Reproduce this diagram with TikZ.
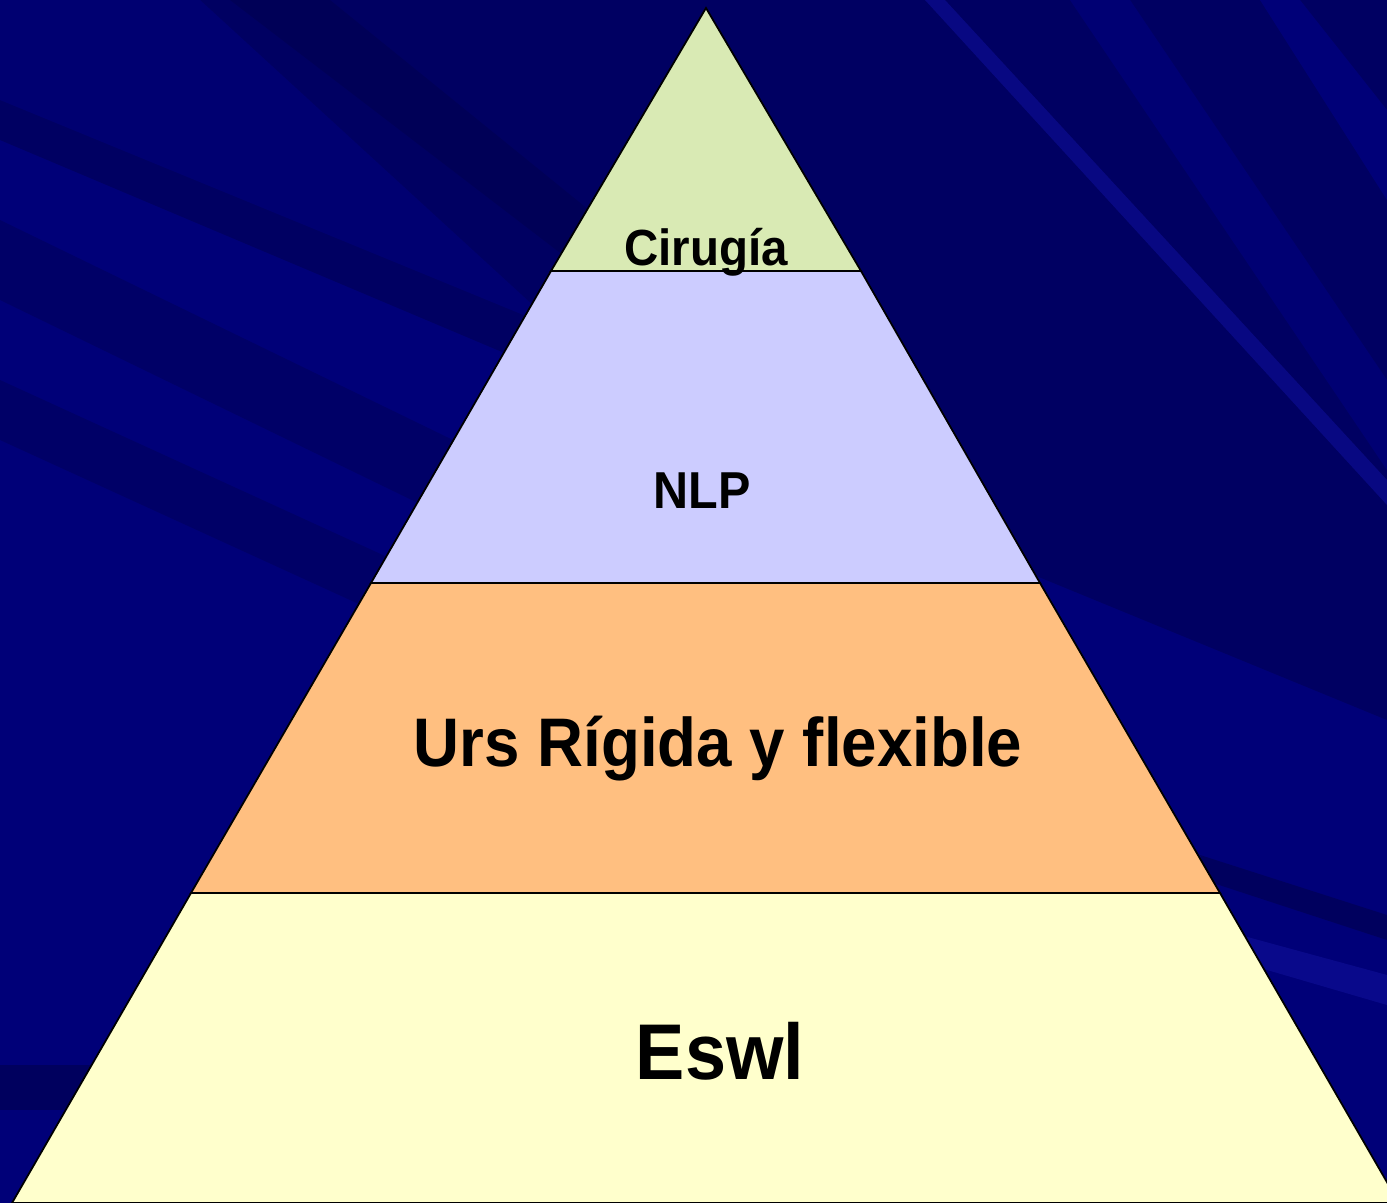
\documentclass[tikz,border=0pt]{standalone}
\usepackage{fontspec}
\setmainfont{Liberation Sans}
\begin{document}
\begin{tikzpicture}[x=0.01cm,y=-0.01cm,
  tier/.style={draw=black,line width=0.5pt,line join=miter},
  lbl/.style={text=black,inner sep=0pt,anchor=base}]
\definecolor{bgblue}{HTML}{000078}
\definecolor{bgdark}{HTML}{000062}
\definecolor{bgdarker}{HTML}{00004E}
\definecolor{bglight}{HTML}{0C0C90}
\definecolor{cgreen}{HTML}{D9EAB4}
\definecolor{clav}{HTML}{CCCCFF}
\definecolor{corange}{HTML}{FFBF80}
\definecolor{ccream}{HTML}{FFFFCC}
\useasboundingbox (0,0) rectangle (1387,1203);
\begin{scope}
\clip (0,0) rectangle (1387,1203);
% background
\fill[bgblue] (0,0) rectangle (1387,1203);
\fill[bgdark] (0,0) -- (1387,0) -- (1387,720) -- (900,520) -- (0,140) -- cycle;
\fill[bgdarker,opacity=0.4] (0,220) -- (700,560) -- (700,640) -- (0,300) -- cycle;
\fill[bgdarker,opacity=0.4] (0,380) -- (700,700) -- (700,760) -- (0,440) -- cycle;
\fill[bgdarker,opacity=0.5] (230,0) -- (330,0) -- (700,300) -- (700,360) -- cycle;
\fill[bgblue,opacity=0.7] (0,0) -- (200,0) -- (560,330) -- (0,100) -- cycle;
\fill[bgdarker,opacity=0.6] (0,1065) -- (250,1065) -- (250,1110) -- (0,1110) -- cycle;
\fill[bgblue,opacity=0.8] (1070,0) -- (1130,0) -- (1387,380) -- (1387,470) -- cycle;
\fill[bglight,opacity=0.7] (925,0) -- (945,0) -- (1387,480) -- (1387,505) -- cycle;
\fill[bgblue] (1260,0) -- (1300,0) -- (1387,110) -- (1387,200) -- cycle;
\fill[bgdarker,opacity=0.6] (1200,855) -- (1387,915) -- (1387,940) -- (1210,882) -- cycle;
\fill[bglight,opacity=0.8] (1240,935) -- (1387,975) -- (1387,1005) -- (1250,965) -- cycle;
% pyramid tiers
\coordinate (apex) at (706,8);
\coordinate (l1) at (551,271); \coordinate (r1) at (861,271);
\coordinate (l2) at (371,583); \coordinate (r2) at (1040,583);
\coordinate (l3) at (191,893); \coordinate (r3) at (1220,893);
\coordinate (l4) at (12,1203); \coordinate (r4) at (1399,1203);
\path[tier,fill=cgreen] (apex) -- (r1) -- (l1) -- cycle;
\path[tier,fill=clav] (l1) -- (r1) -- (r2) -- (l2) -- cycle;
\path[tier,fill=corange] (l2) -- (r2) -- (r3) -- (l3) -- cycle;
\path[tier,fill=ccream] (l3) -- (r3) -- (r4) -- (l4) -- cycle;
\end{scope}
\node[lbl,font=\bfseries\fontsize{13.5pt}{16pt}\selectfont] (t1) at (706,265) {\scalebox{1}[1.07]{Cirugía}};
\node[lbl,font=\bfseries\fontsize{13.8pt}{16pt}\selectfont] (t2) at (702,508) {\scalebox{1}[1.07]{NLP}};
\node[lbl,font=\bfseries\fontsize{18.1pt}{22pt}\selectfont] (t3) at (718,766) {\scalebox{1}[1.08]{Urs Rígida y flexible}};
\node[lbl,font=\bfseries\fontsize{21pt}{25pt}\selectfont] (t4) at (720,1079) {\scalebox{1}[1.07]{Eswl}};
\end{tikzpicture}
\end{document}
